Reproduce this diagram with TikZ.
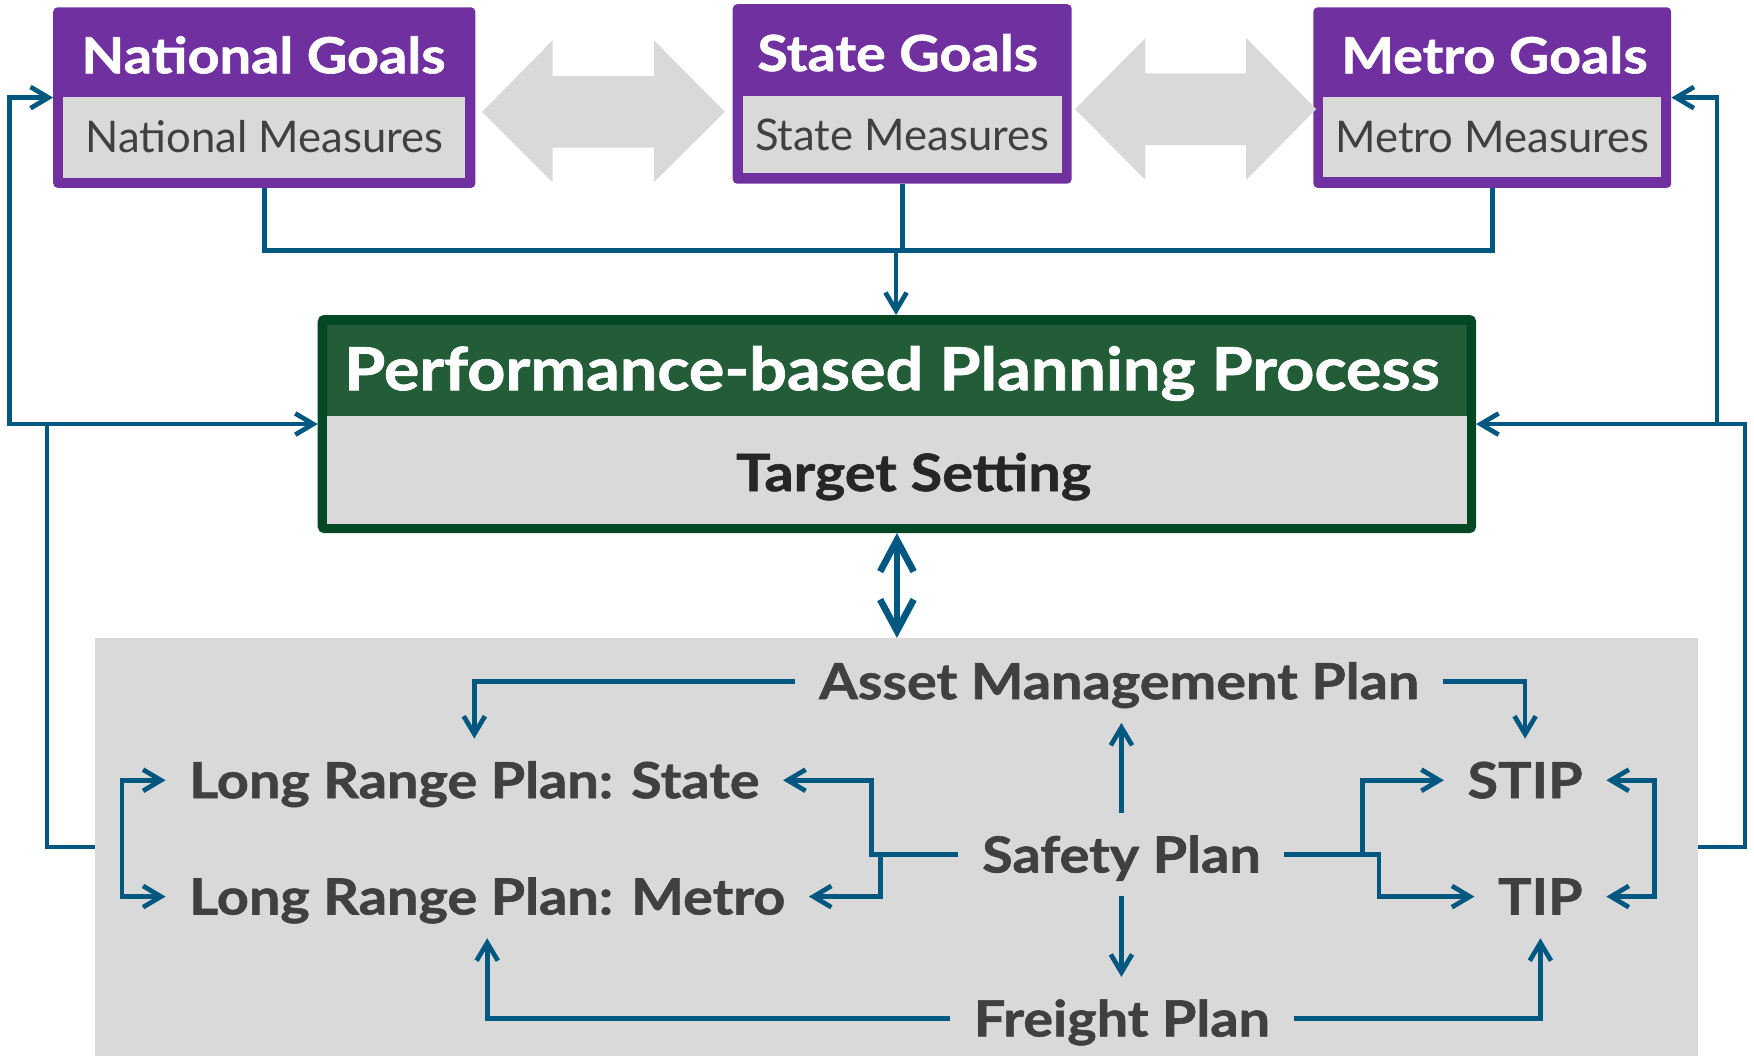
\documentclass[tikz,border=0pt]{standalone}
\usepackage{fontspec}
\setmainfont{Lato}[BoldFeatures={FakeStretch=1.12, FakeBold=1.2}]
\usepackage{xcolor}
\usepackage{tikz}
\usetikzlibrary{arrows.meta}
\definecolor{goalpurple}{RGB}{112,48,160}
\definecolor{panelgray}{RGB}{217,217,217}
\definecolor{ppgreen}{RGB}{34,93,56}
\definecolor{ppedge}{RGB}{2,72,36}
\definecolor{linkblue}{RGB}{0,88,128}
\definecolor{labelgray}{RGB}{64,64,64}
\definecolor{darkink}{RGB}{38,38,38}

\begin{document}
\begin{tikzpicture}[
    x=1pt, y=-1pt,
    goalbox/.style={rectangle, fill=goalpurple, rounded corners=4pt, inner sep=0pt},
    measbox/.style={rectangle, fill=panelgray, inner sep=0pt, text=labelgray, text height=28pt, text depth=0pt, font=\fontsize{39}{44}\selectfont},
    goaltitle/.style={text=white, inner sep=0pt, text height=31pt, text depth=0pt, font=\bfseries\fontsize{44.5}{48}\selectfont},
    ppbox/.style={rectangle, fill=ppgreen, draw=ppedge, line width=8.5pt, rounded corners=2pt, inner sep=0pt},
    tsetbox/.style={rectangle, fill=panelgray, inner sep=0pt},
    pptitle/.style={text=white, inner sep=0pt, text height=38.6pt, text depth=0pt, font=\bfseries\fontsize{53.1}{60}\selectfont},
    tsettext/.style={text=darkink, inner sep=0pt, text height=33pt, text depth=0pt, font=\bfseries\fontsize{46}{52}\selectfont},
    panel/.style={rectangle, fill=panelgray, inner sep=0pt},
    plan/.style={text=labelgray, inner sep=21pt, text height=32pt, text depth=0pt, font=\bfseries\fontsize{44.5}{50}\selectfont},
    wire/.style={draw=linkblue, line width=4.2pt},
    link/.style={wire, -{Straight Barb[length=16pt,width=19pt]}},
    twoway/.style={wire, {Straight Barb[length=16pt,width=19pt]}-{Straight Barb[length=16pt,width=19pt]}},
    bigtwoway/.style={draw=linkblue, line width=6pt, {Straight Barb[length=28pt,width=30pt]}-{Straight Barb[length=28pt,width=30pt]}}
]
\useasboundingbox (0,0) rectangle (1568,944);

\node[goalbox, minimum width=377.4pt, minimum height=161.5pt] (natl) at (236.3,87.25) {};
\node[measbox, minimum width=359.4pt, minimum height=72.5pt] (natlm) at (236.3,122.75) {National Measures};
\node[goaltitle] (natlt) at (235.5,50) {National Goals};

\node[goalbox, minimum width=303pt, minimum height=160.5pt] (state) at (806.5,84) {};
\node[measbox, minimum width=285pt, minimum height=69pt] (statem) at (806.5,120.5) {State Measures};
\node[goaltitle] (statet) at (802.5,48) {State Goals};

\node[goalbox, minimum width=320pt, minimum height=161.5pt] (metro) at (1334,87.25) {};
\node[measbox, minimum width=302pt, minimum height=71.5pt] (metrom) at (1334,122.25) {Metro Measures};
\node[goaltitle] (metrot) at (1336,50) {Metro Goals};

\fill[panelgray] (431,100) -- (494,36) -- (494,68) -- (584.5,68) -- (584.5,36) -- (648,100)
    -- (584.5,163) -- (584.5,132) -- (494,132) -- (494,163) -- cycle;
\fill[panelgray] (961,97.5) -- (1024,34) -- (1024,65.5) -- (1114,65.5) -- (1114,34) -- (1176.6,97.5)
    -- (1114,161) -- (1114,129.7) -- (1024,129.7) -- (1024,161) -- cycle;

\node[ppbox, minimum width=1027pt, minimum height=186.5pt] (ppp) at (801.8,379.1) {};
\node[tsetbox, minimum width=1019pt, minimum height=96pt] (tset) at (801.8,420.1) {};
\node[pptitle] (ppt) at (797.3,329.5) {Performance-based Planning Process};
\node[tsettext] (tsett) at (816.8,422.5) {Target Setting};

\node[panel, minimum width=1433pt, minimum height=373.5pt] (plans) at (801.5,757.25) {};

\node[plan] (asset) at (1000.5,609) {Asset Management Plan};
\node[plan, anchor=west] (lrps) at (148,697.5) {Long Range Plan: State};
\node[plan, anchor=west] (lrpm) at (148,801.5) {Long Range Plan: Metro};
\node[plan] (safety) at (1002.5,764) {Safety Plan};
\node[plan] (freight) at (1003,910.5) {Freight Plan};
\node[plan, anchor=east] (stip) at (1436,697.5) {STIP};
\node[plan, anchor=east] (tip) at (1436,801.5) {TIP};

\coordinate (tjoin) at (801,224);
\coordinate (ljoin) at (42,379.1);
\coordinate (rjoin) at (1560,379.1);

\draw[wire] (natl.south) -- ++(0,56) -| (metro.south);
\draw[wire] (state.south) -- ++(0,60);
\draw[link] (tjoin) -- (tjoin |- ppp.north);

\draw[link] (plans.west) -| (ljoin) -- (ppp.west);
\draw[link] (ljoin) -- ++(-33.5,0) |- (natl.west);
\draw[link] (plans.east) -| (rjoin) -- (ppp.east);
\draw[link] (rjoin) -- ++(-25,0) |- (metro.east);

\draw[bigtwoway] (ppp.south) -- (ppp.south |- plans.north);

\draw[link] (asset.west) -| (lrps.north);
\draw[link] (asset.east) -| (stip.north);
\draw[link] (safety.north) -- (safety.north |- asset.south);
\draw[link] (safety.south) -- (safety.south |- freight.north);
\draw[link] (safety.west) -- ++(-78,0) |- (lrps.east);
\draw[link] (safety.west) -- ++(-69.5,0) |- (lrpm.east);
\draw[link] (safety.east) -- ++(70,0) |- (stip.west);
\draw[link] (safety.east) -- ++(84.5,0) |- (tip.west);
\draw[twoway] (lrps.west) -- ++(-39,0) |- (lrpm.west);
\draw[twoway] (stip.east) -- ++(43,0) |- (tip.east);
\draw[link] (freight.west) -| (lrpm.south);
\draw[link] (freight.east) -| (tip.south);
\end{tikzpicture}
\end{document}
